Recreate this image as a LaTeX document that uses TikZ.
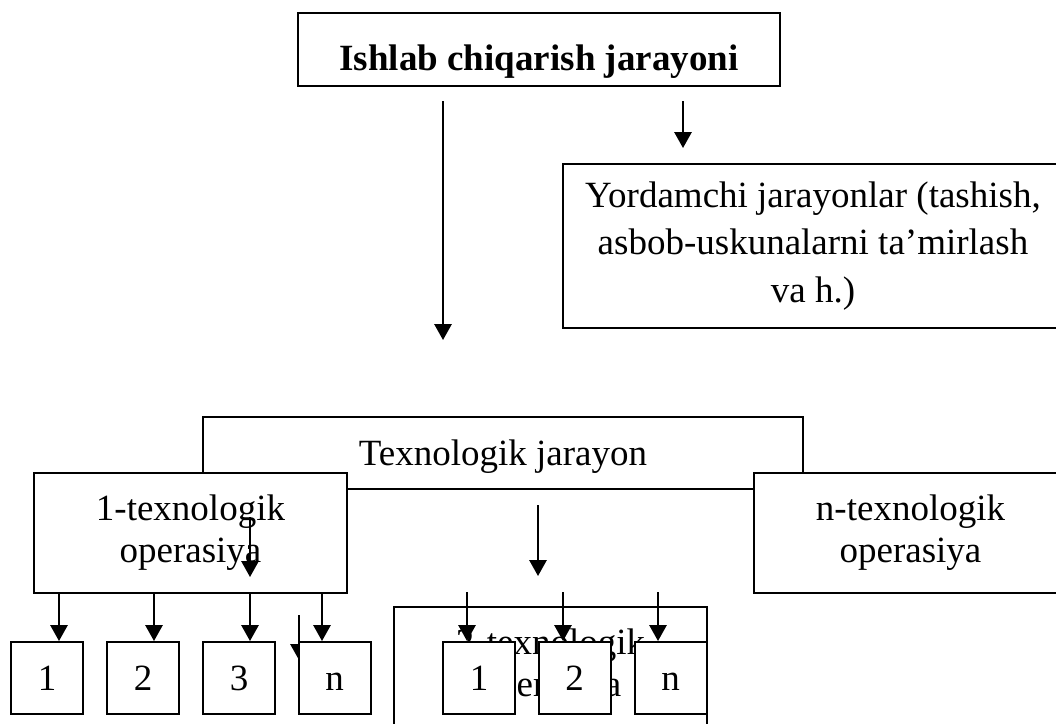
\documentclass[tikz,border=0pt]{standalone}
\usepackage{fontspec}
\setmainfont{Liberation Serif}
\usetikzlibrary{arrows.meta,calc}

\begin{document}
\begin{tikzpicture}[x=0.75pt,y=-0.75pt,line width=1.5pt,
	>={Triangle[width=13pt,length=12pt]},
	box/.style={draw,fill=white,inner sep=0pt,align=center,
		font=\fontsize{27.75}{31.5}\selectfont},
	opbox/.style={box,minimum width=234.75pt,minimum height=90pt},
	kvadrat/.style={box,minimum width=54pt,minimum height=54pt,text height=18.8pt,text depth=0pt}]

\useasboundingbox (0,0) rectangle (1056,724);
\clip (0,0) rectangle (1056,724);

\node[box,font=\fontsize{27.75}{31.5}\selectfont\bfseries,minimum width=361.5pt,minimum height=54.75pt,
	text height=30.75pt,text depth=0pt] (top) at (539,49.5) {Ishlab chiqarish jarayoni};
\node[box,font=\fontsize{27.75}{35.6}\selectfont,minimum width=375pt,minimum height=123pt] (yord) at (813,246)
	{Yordamchi jarayonlar (tashish,\\asbob-uskunalarni ta'mirlash\\va h.)};

\coordinate (a1) at (443,101);
\coordinate (a2) at (443,340);
\coordinate (a3) at (683,101);
\coordinate (a4) at (683,148);
\draw[->] (a1) -- (a2);
\draw[->] (a3) -- (a4);

\node[box,minimum width=450pt,minimum height=54pt,text height=18pt,text depth=0pt] (jar) at (503,453) {Texnologik jarayon};
\node[opbox] (t1) at (190.5,533) {1-texnologik\\operasiya};
\node[opbox] (tn) at (910.5,533) {n-texnologik\\operasiya};

% strelkalar bloklar ichida
\coordinate (i1) at (250,517);
\coordinate (i2) at (250,577);
\coordinate (m1) at (538,505);
\coordinate (m2) at (538,576);
\draw[->] (i1) -- (i2);
\draw[->] (m1) -- (m2);

\node[opbox] (t2) at (550.5,667) {2-texnologik\\operasiya};

\coordinate (x1) at (299,615);
\coordinate (x2) at (299,660);
\draw[->] (x1) -- (x2);

\node[kvadrat] (b1) at (47,678) {1};
\node[kvadrat] (b2) at (143,678) {2};
\node[kvadrat] (b3) at (239,678) {3};
\node[kvadrat] (bn) at (334.5,678) {n};

\node[kvadrat] (c1) at (479,678) {1};
\node[kvadrat] (c2) at (574.5,678) {2};
\node[kvadrat] (cn) at (670.5,678) {n};

\foreach \k/\d in {b1/12,b2/11,b3/11,bn/-12.5}{
	\coordinate (p) at ($(\k.north)+(\d,0)$);
	\draw[->] (t1.south -| p) -- (p);
}
\foreach \k/\d in {c1/-12,c2/-11.5,cn/-12.5}{
	\coordinate (p) at ($(\k.north)+(\d,0)$);
	\draw[->] ($(p)+(0,-49)$) -- (p);
}

\end{tikzpicture}
\end{document}
